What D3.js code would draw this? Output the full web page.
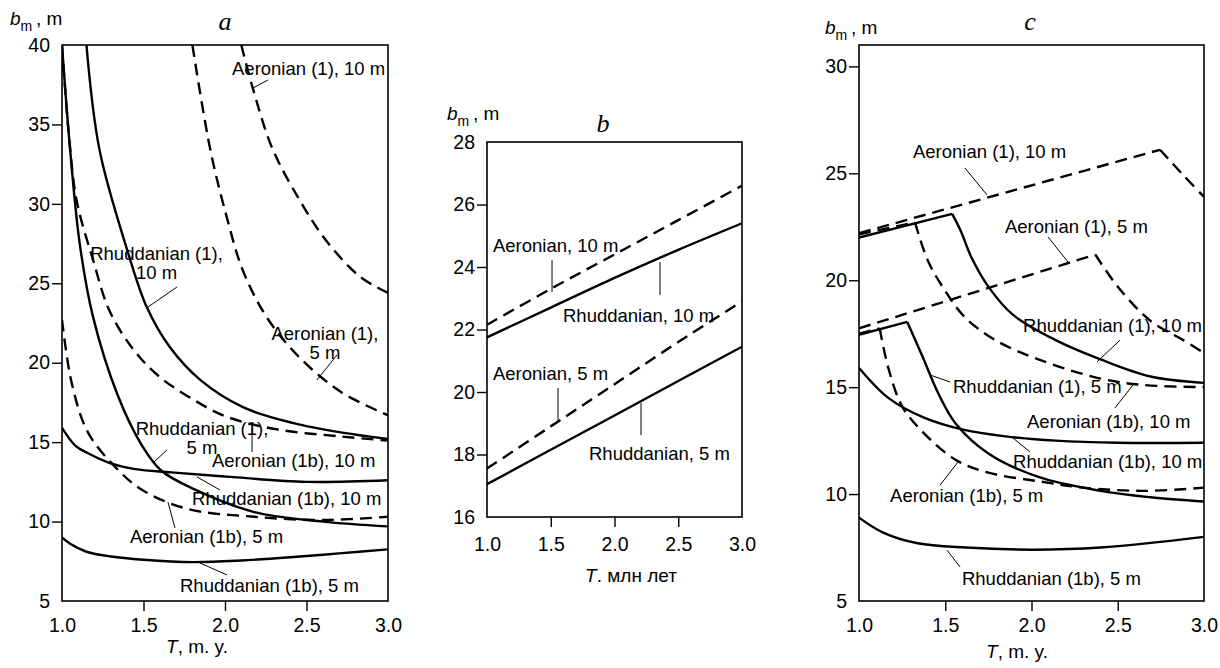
<!DOCTYPE html>
<html>
<head>
<meta charset="utf-8">
<script src="https://d3js.org/d3.v7.min.js"></script>
<style>
  body { margin: 0; background: #fff; }
  svg { font-family: "Liberation Sans", Arial, sans-serif; }
</style>
</head>
<body>
<script>
'use strict';

// ---------- shared axis values ----------
const tDomain = [1.0, 3.0];
const tTicks = [1.0, 1.5, 2.0, 2.5, 3.0];

// ---------- panel a : [T, b_m] ----------
const aDomain = [5, 40];
const aTicks = [5, 10, 15, 20, 25, 30, 35, 40];
const aAeronian1_10 = [[2.10, 40], [2.17, 37.3], [2.29, 33.5], [2.46, 30.2], [2.62, 27.7], [2.83, 25.4], [3.0, 24.4]];
const aAeronian1_5 = [[1.80, 40], [1.91, 33.4], [2.01, 29.2], [2.11, 25.8], [2.26, 22.8], [2.46, 20.3], [2.72, 18.1], [3.0, 16.7]];
const aRhuddanian1_10 = [[1.15, 40], [1.23, 33.4], [1.40, 27.1], [1.52, 23.5], [1.66, 21.0], [1.85, 18.9], [2.11, 17.2], [2.42, 16.2], [2.72, 15.6], [3.0, 15.2]];
const aAeronian1b_10 = [[1.0, 40], [1.04, 34.6], [1.09, 30.2], [1.19, 26.5], [1.29, 23.3], [1.44, 20.8], [1.60, 19.1], [1.81, 17.65], [2.01, 16.6], [2.32, 15.8], [2.72, 15.35], [3.0, 15.1]];
const aRhuddanian1_5 = [[1.0, 40], [1.05, 33.4], [1.11, 27.4], [1.19, 22.9], [1.34, 18.0], [1.49, 14.8], [1.61, 13.2], [1.82, 12.0], [2.18, 10.6], [2.6, 10.0], [3.0, 9.7]];
const aAeronian1b_5 = [[1.0, 22.7], [1.06, 18.7], [1.16, 15.6], [1.33, 13.4], [1.49, 12.0], [1.77, 10.8], [2.18, 10.3], [2.6, 10.1], [3.0, 10.3]];
const aRhuddanian1b_10 = [[1.0, 15.9], [1.08, 14.8], [1.16, 14.3], [1.29, 13.7], [1.45, 13.3], [1.67, 13.1], [2.05, 12.8], [2.5, 12.5], [3.0, 12.6]];
const aRhuddanian1b_5 = [[1.0, 9.0], [1.05, 8.6], [1.15, 8.1], [1.3, 7.8], [1.5, 7.6], [1.8, 7.45], [2.1, 7.55], [2.4, 7.75], [2.7, 8.0], [3.0, 8.25]];

// ---------- panel b ----------
const bDomain = [16, 28];
const bTicks = [16, 18, 20, 22, 24, 26, 28];
const bT = [1.0, 1.5, 2.0, 2.5, 3.0];
const bAeronian10 = [22.15, 23.3, 24.4, 25.5, 26.6];
const bRhuddanian10 = [21.75, 22.7, 23.65, 24.55, 25.4];
const bAeronian5 = [17.55, 18.9, 20.25, 21.6, 22.9];
const bRhuddanian5 = [17.05, 18.15, 19.25, 20.35, 21.45];

// ---------- panel c : rising straight part up to a corner, then a falling curve ----------
const cDomain = [5, 31];
const cTicks = [5, 10, 15, 20, 25, 30];
const cAeronian1_10 = [[1.0, 22.2], [2.745, 26.1], [2.87, 25.0], [3.0, 23.9]];
const cRhuddanian1_10 = [[1.0, 22.0], [1.54, 23.1], [1.59, 22.3], [1.65, 21.1], [1.75, 19.7], [1.89, 18.4], [2.14, 17.2], [2.40, 16.3], [2.69, 15.5], [3.0, 15.2]];
const cAeronian1b_10 = [[1.0, 22.15], [1.325, 22.7], [1.40, 20.9], [1.50, 19.5], [1.61, 18.3], [1.79, 17.2], [2.04, 16.3], [2.40, 15.4], [2.65, 15.1], [3.0, 15.0]];
const cAeronian1_5 = [[1.0, 17.75], [2.37, 21.2], [2.50, 19.7], [2.69, 18.1], [2.88, 17.2], [3.0, 16.6]];
const cRhuddanian1_5 = [[1.0, 17.45], [1.28, 18.05], [1.37, 16.4], [1.46, 14.7], [1.56, 13.3], [1.75, 11.9], [2.04, 10.8], [2.40, 10.15], [2.69, 9.85], [3.0, 9.65]];
const cAeronian1b_5 = [[1.0, 17.5], [1.12, 17.75], [1.17, 15.9], [1.25, 14.1], [1.37, 12.9], [1.56, 11.6], [1.75, 11.0], [2.04, 10.6], [2.30, 10.3], [2.65, 10.15], [3.0, 10.3]];
const cRhuddanian1b_10 = [[1.0, 15.9], [1.17, 14.5], [1.37, 13.6], [1.61, 13.0], [1.85, 12.7], [2.14, 12.5], [2.5, 12.4], [3.0, 12.4]];
const cRhuddanian1b_5 = [[1.0, 8.9], [1.14, 8.2], [1.34, 7.7], [1.62, 7.5], [2.01, 7.4], [2.40, 7.5], [3.0, 8.0]];

(function() {

  let svgContainer = ''; // svg reference

  const DASH = '12,7';

  window.onload = function() {
    svgContainer = d3.select('body')
      .append('svg')
      .attr('width', 1220)
      .attr('height', 668);

    // zip panel b arrays into points
    let zipB = (vals) => bT.map((t, i) => [t, vals[i]]);

    drawPanel({
      id: 'a', left: 62, top: 45, right: 388, bottom: 601,
      yDomain: aDomain, yTicks: aTicks, xPad: 7,
      title: 'a', titleX: 225, titleY: 30,
      yTitleX: 10, yTitleY: 25, xTitle: ', m. y.', xTitleX: 197, xTitleY: 653,
      series: [
        { pts: aAeronian1_10, dash: true },
        { pts: aAeronian1_5, dash: true },
        { pts: aRhuddanian1_10 },
        { pts: aAeronian1b_10, dash: true },
        { pts: aRhuddanian1_5 },
        { pts: aAeronian1b_5, dash: true },
        { pts: aRhuddanian1b_10 },
        { pts: aRhuddanian1b_5 }
      ],
      notes: [
        { lines: ['Aeronian (1), 10 m'], at: [2.043, 38.11], leader: [[2.172, 37.29], [2.264, 37.80]] },
        { lines: ['Rhuddanian (1),', '10 m'], at: [1.58, 26.47], anchor: 'middle', leader: [[1.528, 23.51], [1.706, 24.77]] },
        { lines: ['Aeronian (1),', '5 m'], at: [2.613, 21.43], anchor: 'middle', leader: [[2.564, 18.91], [2.687, 20.49]] },
        { lines: ['Rhuddanian (1),', '5 m'], at: [1.859, 15.45], anchor: 'middle', leader: [[1.558, 13.69], [1.644, 14.51]] },
        { lines: ['Aeronian (1b), 10 m'], at: [1.920, 13.43], leader: [[2.166, 14.38], [2.166, 16.08]] },
        { lines: ['Rhuddanian (1b), 10 m'], at: [1.798, 11.04], leader: [[1.969, 11.99], [1.828, 12.81]] },
        { lines: ['Aeronian (1b), 5 m'], at: [1.417, 8.65], leader: [[1.693, 9.60], [1.650, 11.23]] },
        { lines: ['Rhuddanian (1b), 5 m'], at: [1.724, 5.57], leader: [[2.012, 6.64], [1.847, 7.39]] }
      ]
    });

    drawPanel({
      id: 'b', left: 487, top: 142, right: 742, bottom: 517,
      yDomain: bDomain, yTicks: bTicks, xPad: 10,
      title: 'b', titleX: 603, titleY: 132,
      yTitleX: 447, yTitleY: 120, xTitle: '. млн лет', xTitleX: 631, xTitleY: 582,
      series: [
        { pts: zipB(bAeronian10), dash: true },
        { pts: zipB(bRhuddanian10) },
        { pts: zipB(bAeronian5), dash: true },
        { pts: zipB(bRhuddanian5) }
      ],
      notes: [
        { lines: ['Aeronian, 10 m'], at: [1.047, 24.48], leader: [[1.51, 24.22], [1.51, 23.2]] },
        { lines: ['Rhuddanian, 10 m'], at: [1.596, 22.24], leader: [[2.357, 24.16], [2.357, 23.10]] },
        { lines: ['Aeronian, 5 m'], at: [1.047, 20.38], leader: [[1.557, 20.13], [1.557, 19.04]] },
        { lines: ['Rhuddanian, 5 m'], at: [1.8, 17.82], leader: [[2.208, 19.65], [2.208, 18.62]] }
      ]
    });

    drawPanel({
      id: 'c', left: 859, top: 45, right: 1204, bottom: 601,
      yDomain: cDomain, yTicks: cTicks, xPad: 7,
      title: 'c', titleX: 1030, titleY: 30,
      yTitleX: 825, yTitleY: 34, xTitle: ', m. y.', xTitleX: 1017, xTitleY: 658,
      series: [
        { pts: cAeronian1_10, dash: true, corner: 1 },
        { pts: cRhuddanian1_10, corner: 1 },
        { pts: cAeronian1b_10, dash: true, corner: 1 },
        { pts: cAeronian1_5, dash: true, corner: 1 },
        { pts: cRhuddanian1_5, corner: 1 },
        { pts: cAeronian1b_5, dash: true, corner: 1 },
        { pts: cRhuddanian1b_10 },
        { pts: cRhuddanian1b_5 }
      ],
      notes: [
        { lines: ['Aeronian (1), 10 m'], at: [1.313, 25.72], leader: [[1.614, 25.25], [1.742, 23.99]] },
        { lines: ['Aeronian (1), 5 m'], at: [1.846, 22.21], leader: [[2.096, 22.02], [2.212, 20.85]] },
        { lines: ['Rhuddanian (1), 10 m'], at: [1.951, 17.58], leader: [[2.513, 17.20], [2.380, 16.18]] },
        { lines: ['Rhuddanian (1), 5 m'], at: [1.545, 14.73], leader: [[1.528, 15.24], [1.412, 15.57]] },
        { lines: ['Aeronian (1b), 10 m'], at: [1.974, 13.09], leader: [[2.484, 14.03], [2.588, 15.10]] },
        { lines: ['Rhuddanian (1b), 10 m'], at: [1.893, 11.22], leader: [[1.991, 11.97], [1.893, 12.62]] },
        { lines: ['Aeronian (1b), 5 m'], at: [1.180, 9.63], leader: [[1.470, 10.42], [1.574, 11.50]] },
        { lines: ['Rhuddanian (1b), 5 m'], at: [1.597, 5.75], leader: [[1.586, 6.59], [1.510, 7.38]] }
      ]
    });
  };

  // draw one panel: box, axes, curves, labels
  function drawPanel(p) {
    let x = d3.scaleLinear().domain(tDomain).range([p.left, p.right]);
    let y = d3.scaleLinear().domain(p.yDomain).range([p.bottom, p.top]);

    // clip to the plot box
    svgContainer.append('clipPath')
      .attr('id', 'clip-' + p.id)
      .append('rect')
        .attr('x', p.left)
        .attr('y', p.top)
        .attr('width', p.right - p.left)
        .attr('height', p.bottom - p.top);

    // y axis (ticks out, none at the box corners)
    let yAxis = d3.axisLeft(y)
      .tickValues(p.yTicks)
      .tickSize(10)
      .tickPadding(2)
      .tickFormat(d3.format('d'));
    let gy = svgContainer.append('g')
      .attr('transform', 'translate(' + p.left + ',0)')
      .call(yAxis);
    styleAxis(gy, p.yDomain);

    // x axis
    let xAxis = d3.axisBottom(x)
      .tickValues(tTicks)
      .tickSize(10)
      .tickPadding(p.xPad)
      .tickFormat(d3.format('.1f'));
    let gx = svgContainer.append('g')
      .attr('transform', 'translate(0,' + p.bottom + ')')
      .call(xAxis);
    styleAxis(gx, tDomain);

    // curves (centripetal catmull-rom keeps the steep parts smooth)
    let plot = svgContainer.append('g').attr('clip-path', 'url(#clip-' + p.id + ')');
    let smooth = d3.line().x(d => x(d[0])).y(d => y(d[1])).curve(d3.curveCatmullRom.alpha(0.5));
    let straight = d3.line().x(d => x(d[0])).y(d => y(d[1]));

    p.series.forEach(function(s) {
      let parts = [];
      if (s.corner !== undefined) {
        parts.push(straight(s.pts.slice(0, s.corner + 1)));
        parts.push(smooth(s.pts.slice(s.corner)));
      } else {
        parts.push(smooth(s.pts));
      }
      parts.forEach(function(dStr) {
        plot.append('path')
          .attr('d', dStr)
          .attr('fill', 'none')
          .attr('stroke', '#000')
          .attr('stroke-width', 2.4)
          .attr('stroke-dasharray', s.dash ? DASH : null);
      });
    });

    // box
    svgContainer.append('rect')
      .attr('x', p.left)
      .attr('y', p.top)
      .attr('width', p.right - p.left)
      .attr('height', p.bottom - p.top)
      .attr('fill', 'none')
      .attr('stroke', '#000')
      .attr('stroke-width', 1.6);

    // annotations with leader lines
    p.notes.forEach(function(n) {
      svgContainer.append('line')
        .attr('x1', x(n.leader[0][0]))
        .attr('y1', y(n.leader[0][1]))
        .attr('x2', x(n.leader[1][0]))
        .attr('y2', y(n.leader[1][1]))
        .attr('stroke', '#000')
        .attr('stroke-width', 1);
      let t = svgContainer.append('text')
        .attr('x', x(n.at[0]))
        .attr('y', y(n.at[1]))
        .attr('text-anchor', n.anchor || 'start')
        .style('font-size', '18.5px');
      n.lines.forEach(function(line, i) {
        t.append('tspan')
          .attr('x', x(n.at[0]))
          .attr('dy', i === 0 ? 0 : 19)
          .text(line);
      });
    });

    // panel letter
    svgContainer.append('text')
      .attr('x', p.titleX)
      .attr('y', p.titleY)
      .attr('text-anchor', 'middle')
      .style('font-family', '"Liberation Serif", "Times New Roman", serif')
      .style('font-style', 'italic')
      .style('font-size', '26px')
      .text(p.title);

    // y title: b_m , m
    let yt = svgContainer.append('text')
      .attr('x', p.yTitleX)
      .attr('y', p.yTitleY)
      .style('font-size', '19px');
    yt.append('tspan').style('font-style', 'italic').text('b');
    yt.append('tspan').attr('dy', 6).style('font-size', '14px').text('m');
    yt.append('tspan').attr('dy', -6).text('\u2009, m');

    // x title: T ...
    let xt = svgContainer.append('text')
      .attr('x', p.xTitleX)
      .attr('y', p.xTitleY)
      .attr('text-anchor', 'middle')
      .style('font-size', '19px');
    xt.append('tspan').style('font-style', 'italic').text('T');
    xt.append('tspan').text(p.xTitle);
  }

  // axis styling: no domain line, no tick at the ends
  function styleAxis(g, domain) {
    g.select('.domain').remove();
    g.selectAll('.tick line')
      .attr('stroke', '#000')
      .attr('stroke-width', 1.4)
      .attr('display', d => (Math.abs(d - domain[0]) < 1e-9 || Math.abs(d - domain[1]) < 1e-9) ? 'none' : null);
    g.selectAll('.tick text')
      .attr('fill', '#000')
      .style('font-family', '"Liberation Sans", Arial, sans-serif')
      .style('font-size', '19.5px');
  }

})();
</script>
</body>
</html>
